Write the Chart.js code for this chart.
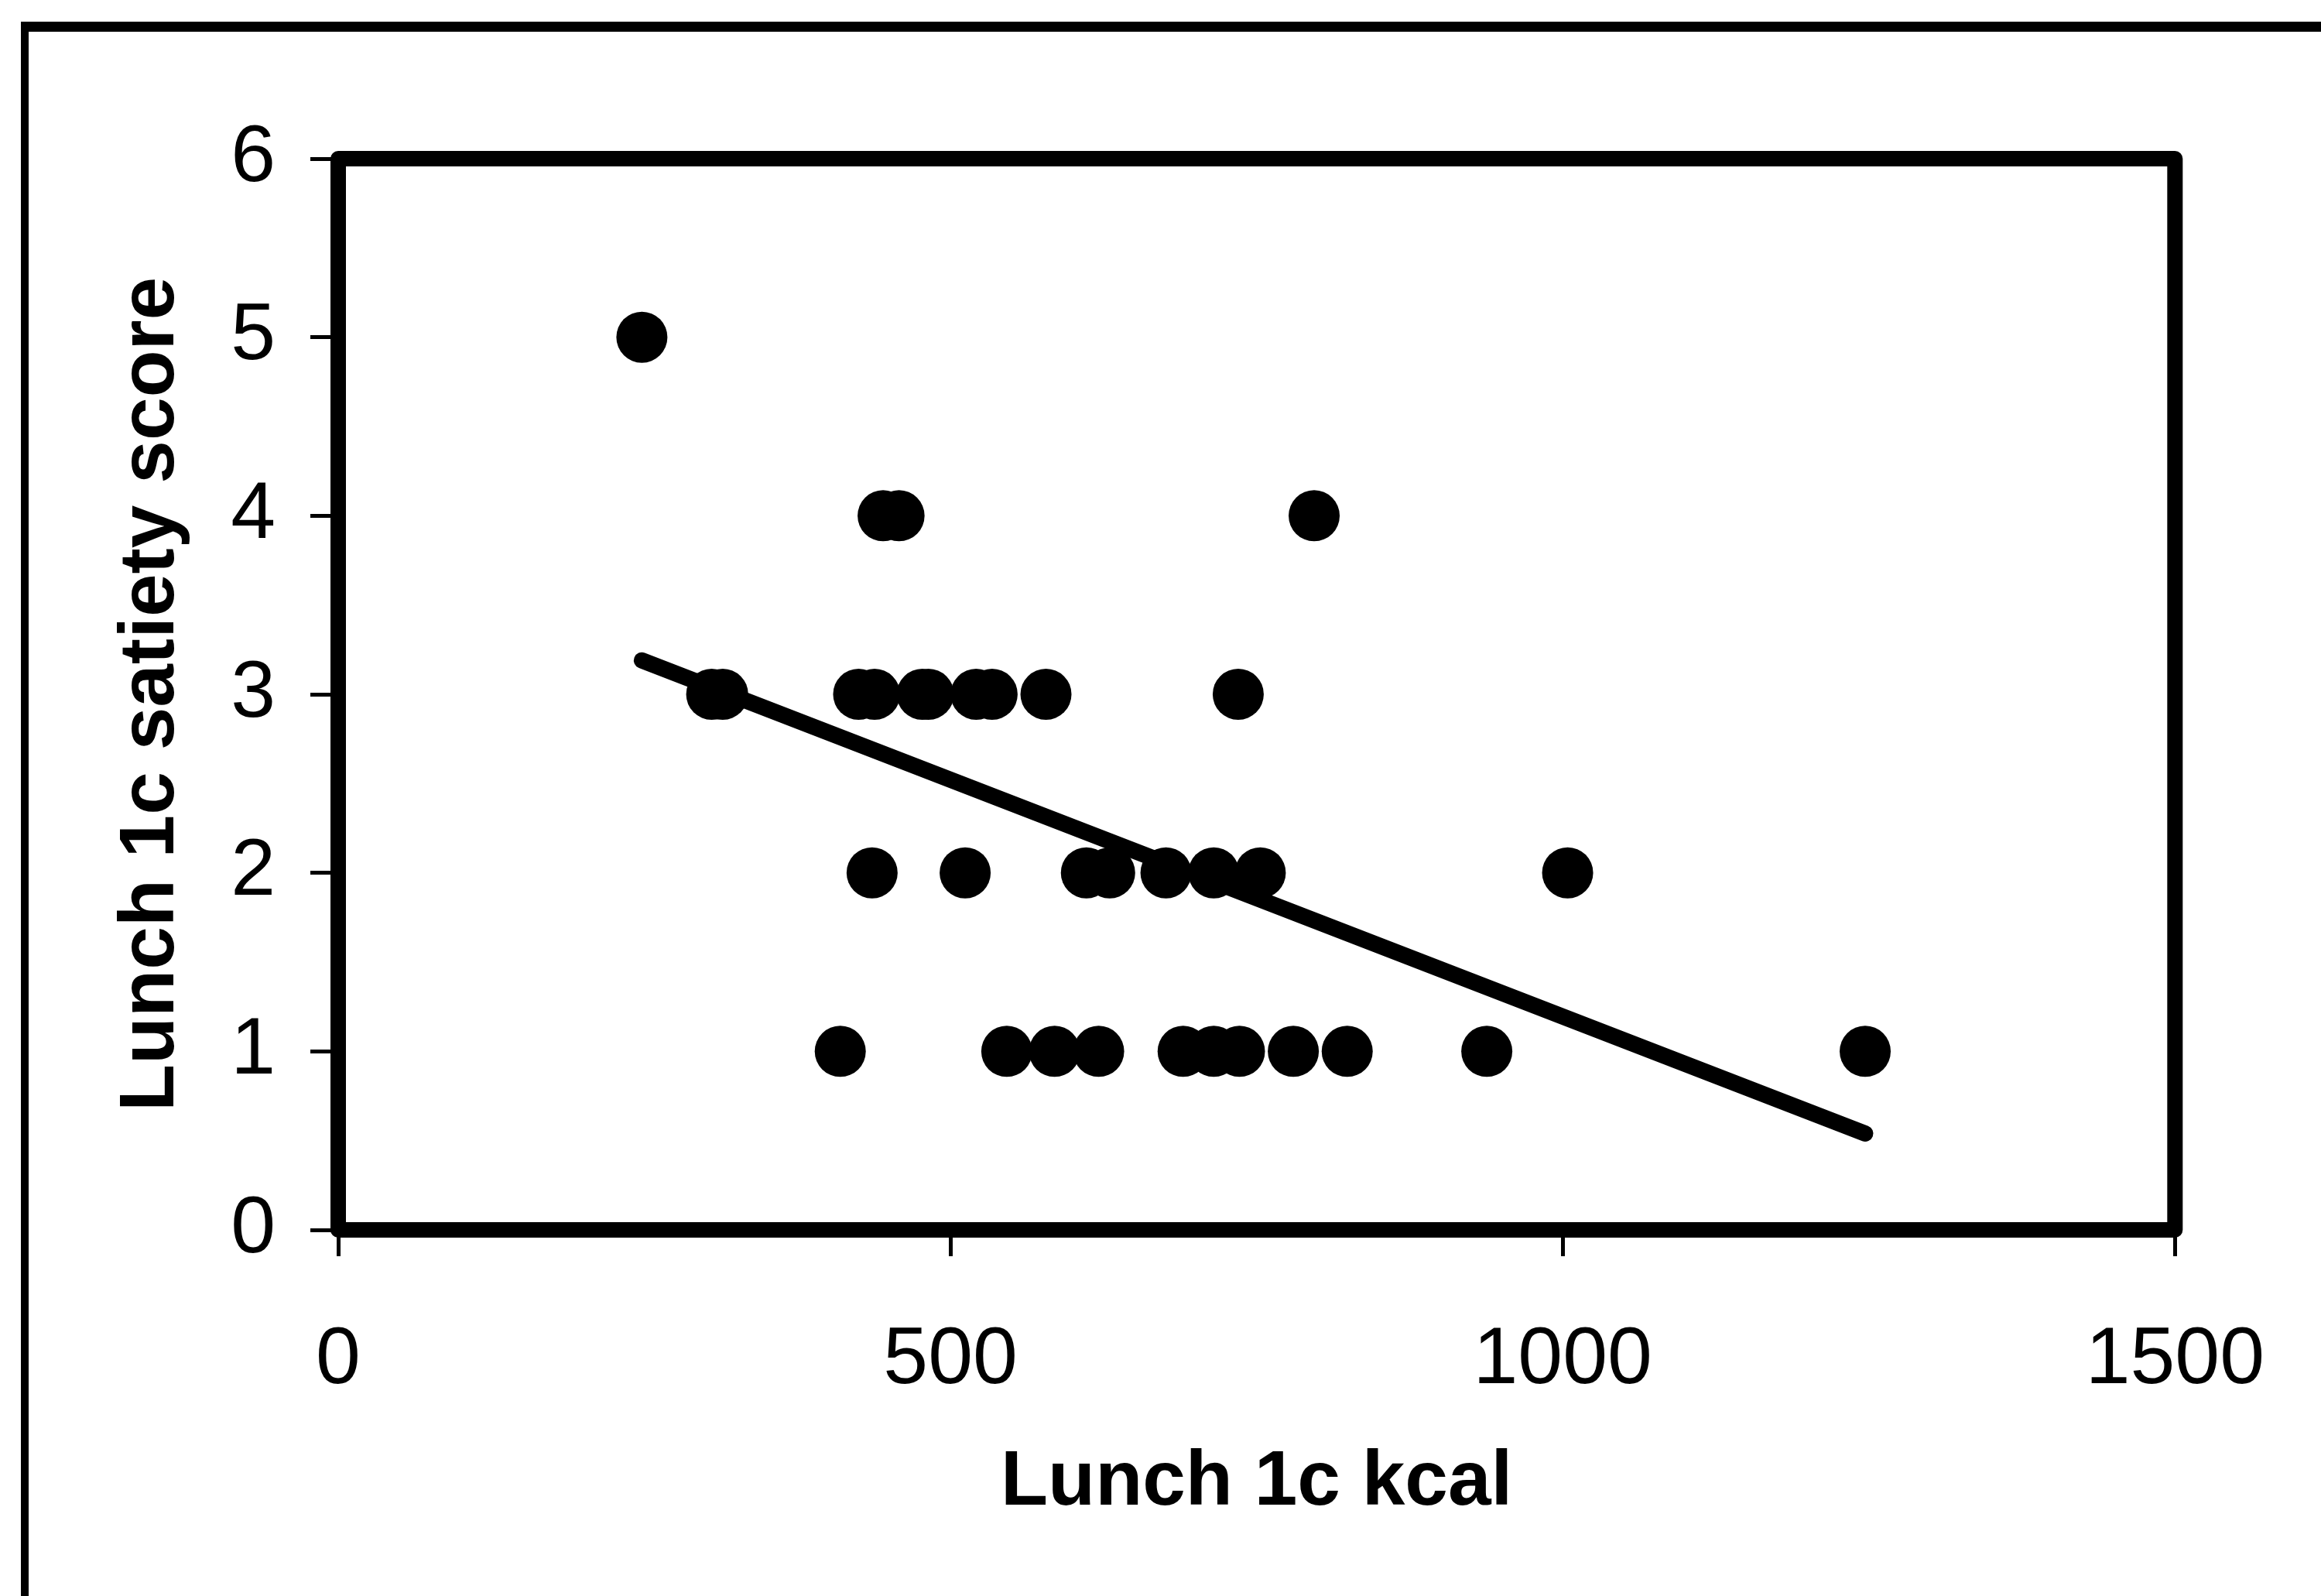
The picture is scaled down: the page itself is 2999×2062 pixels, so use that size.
<!DOCTYPE html>
<html lang="en">
<head>
    <meta charset="UTF-8">
    <title>Lunch 1c satiety vs kcal</title>
    <script src="https://cdn.jsdelivr.net/npm/chart.js"></script>
    <style>
        * {
            margin: 0;
            padding: 0;
            box-sizing: border-box;
        }

        body {
            background: #fff;
            width: 2999px;
            height: 2062px;
            overflow: hidden;
        }

        #satietyChart {
            display: block;
        }
    </style>
</head>
<body>
    <canvas id="satietyChart" width="2999" height="2062"></canvas>

    <script>
        // Lunch 1c: kcal eaten and satiety score, one entry per subject
        const kcalValues = [
            248,
            445, 458, 797,
            305, 314, 425, 438, 477, 482, 521, 534, 578, 735,
            436, 512, 611, 630, 676, 715, 753, 1004,
            410, 546, 585, 621, 690, 715, 736, 780, 824, 938, 1247
        ];
        const satietyScores = [
            5,
            4, 4, 4,
            3, 3, 3, 3, 3, 3, 3, 3, 3, 3,
            2, 2, 2, 2, 2, 2, 2, 2,
            1, 1, 1, 1, 1, 1, 1, 1, 1, 1, 1
        ];

        // linear trendline end points
        const trendKcal = [248, 1247];
        const trendScore = [3.19, 0.54];

        // axis ticks
        const xTicks = [0, 500, 1000, 1500];
        const yTicks = [0, 1, 2, 3, 4, 5, 6];

        const points = kcalValues.map((x, i) => ({ x: x, y: satietyScores[i] }));
        const trend = trendKcal.map((x, i) => ({ x: x, y: trendScore[i] }));

        const FONT = "'Liberation Sans', Arial, sans-serif";

        // plot box border plus the outer figure frame (top + left edges only)
        const framePlugin = {
            id: 'frames',
            beforeDraw(chart) {
                const ctx = chart.ctx;
                ctx.save();
                ctx.fillStyle = '#000';
                ctx.fillRect(27, 28, 3000, 13);
                ctx.fillRect(27, 28, 10, 2100);
                ctx.restore();
            },
            afterDatasetsDraw(chart) {
                const { ctx, chartArea: a } = chart;
                ctx.save();
                ctx.strokeStyle = '#000';
                ctx.lineWidth = 20;
                ctx.lineJoin = 'round';
                ctx.strokeRect(a.left, a.top, a.right - a.left, a.bottom - a.top);
                ctx.restore();
            }
        };

        new Chart(document.getElementById('satietyChart'), {
            type: 'scatter',
            data: {
                datasets: [
                    {
                        label: 'Satiety',
                        data: points,
                        backgroundColor: '#000',
                        borderColor: '#000',
                        borderWidth: 0,
                        pointRadius: 33,
                        pointHoverRadius: 33
                    },
                    {
                        label: 'Linear trend',
                        type: 'line',
                        data: trend,
                        borderColor: '#000',
                        borderWidth: 21,
                        borderCapStyle: 'round',
                        pointRadius: 0,
                        fill: false
                    }
                ]
            },
            plugins: [framePlugin],
            options: {
                responsive: false,
                animation: false,
                events: [],
                layout: {
                    padding: { top: 205, right: 178, left: 0, bottom: 0 }
                },
                plugins: {
                    legend: { display: false },
                    tooltip: { enabled: false }
                },
                scales: {
                    x: {
                        type: 'linear',
                        min: 0,
                        max: 1500,
                        afterFit(scale) { scale.height = 473; },
                        afterBuildTicks(scale) { scale.ticks = xTicks.map(v => ({ value: v })); },
                        border: { display: false },
                        grid: {
                            drawOnChartArea: false,
                            drawTicks: true,
                            tickLength: 34,
                            tickWidth: 5,
                            tickColor: '#000'
                        },
                        ticks: {
                            color: '#000',
                            padding: 73,
                            maxRotation: 0,
                            callback: v => String(v),
                            font: { family: FONT, size: 104 }
                        },
                        title: {
                            display: true,
                            text: 'Lunch 1c kcal',
                            color: '#000',
                            font: { family: FONT, size: 100, weight: 'bold' },
                            padding: { top: 0, bottom: 86 }
                        }
                    },
                    y: {
                        type: 'linear',
                        min: 0,
                        max: 6,
                        afterFit(scale) { scale.width = 437; },
                        afterBuildTicks(scale) { scale.ticks = yTicks.map(v => ({ value: v })); },
                        border: { display: false },
                        grid: {
                            drawOnChartArea: false,
                            drawTicks: true,
                            tickLength: 36,
                            tickWidth: 5,
                            tickColor: '#000'
                        },
                        ticks: {
                            color: '#000',
                            padding: 45,
                            callback: v => String(v),
                            font: { family: FONT, size: 104 }
                        },
                        title: {
                            display: true,
                            text: 'Lunch 1c satiety score',
                            color: '#000',
                            font: { family: FONT, size: 100, weight: 'bold' },
                            padding: { top: 136, bottom: 0 }
                        }
                    }
                }
            }
        });
    </script>
</body>
</html>
